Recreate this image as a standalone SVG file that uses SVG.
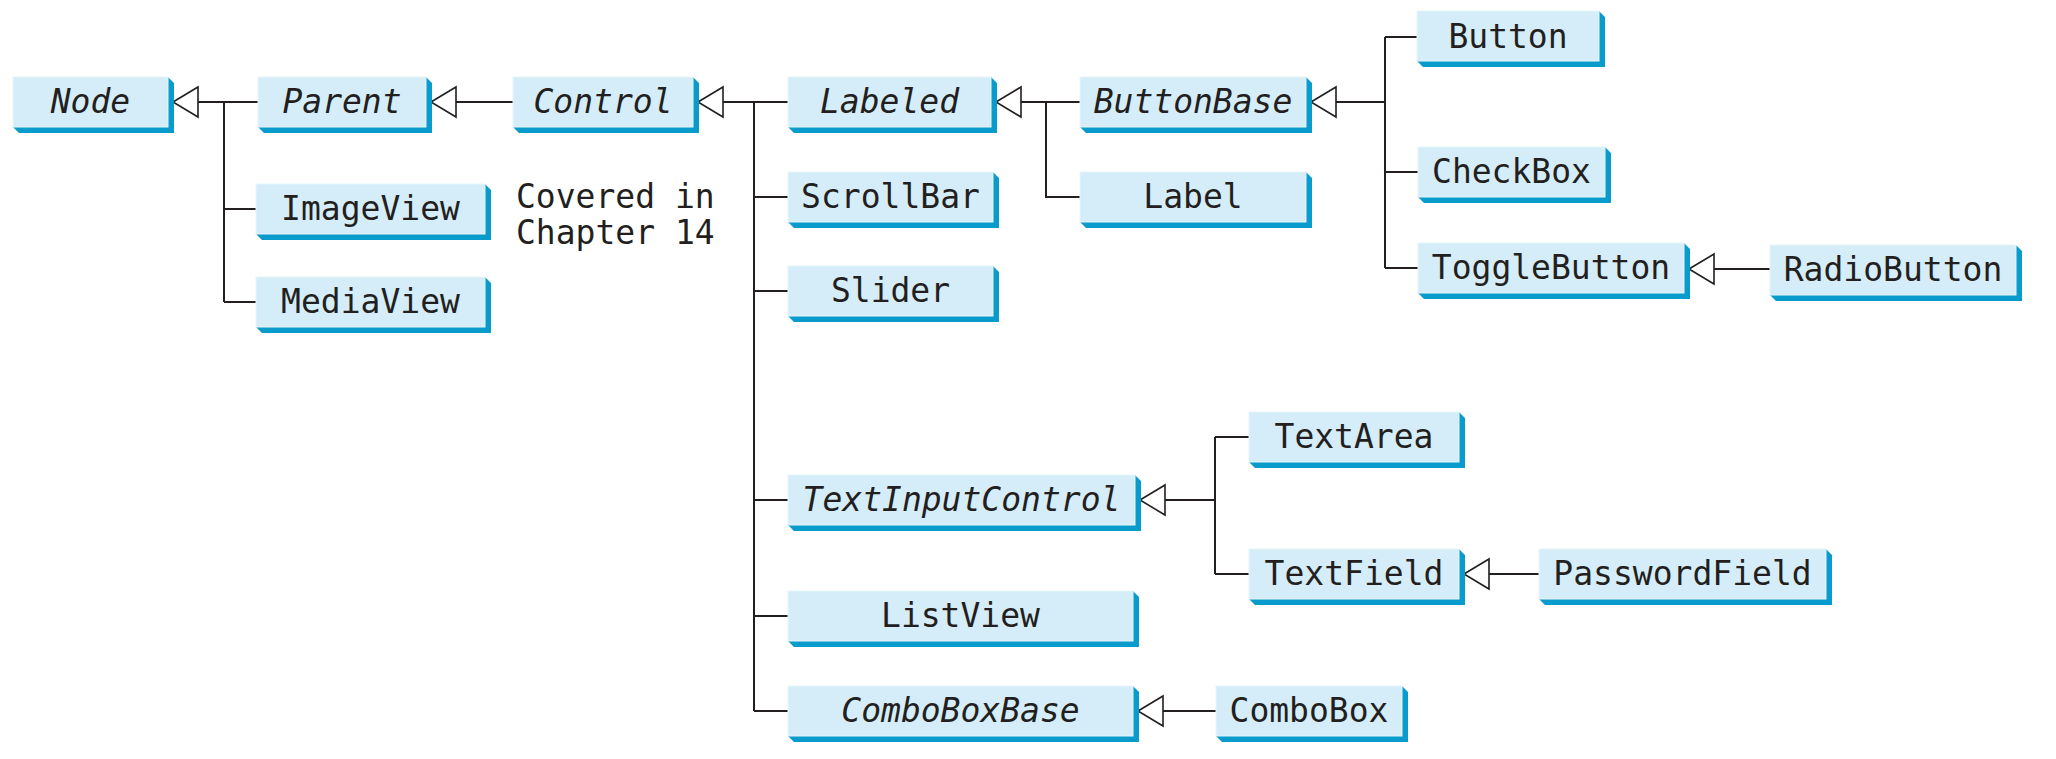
<svg xmlns="http://www.w3.org/2000/svg" width="2056" height="759" viewBox="0 0 2056 759">
<style>
.face{fill:#d4edf9;stroke:#e6f5fc;stroke-width:1}
.shd{fill:#0a9bcd}
.t{font-family:"DejaVu Sans Mono","Liberation Mono",monospace;font-size:33px;fill:#231f20;text-anchor:middle}
.i{font-style:italic}
.c{font-family:"DejaVu Sans Mono","Liberation Mono",monospace;font-size:33px;fill:#231f20}
.ln{fill:none;stroke:#231f20;stroke-width:2}
.ar{fill:#fff;stroke:#231f20;stroke-width:1.6;stroke-linejoin:miter}
</style>
<defs>
<g id="tri"><polygon class="ar" points="0,0 25,-15 25,15"/></g>
</defs>
<rect width="2056" height="759" fill="#fff"/>
<g id="connectors">
<path class="ln" d="M198,102H258 M224,102V302 M224,209H256 M224,302H256"/>
<path class="ln" d="M456,102H513"/>
<path class="ln" d="M723,102H788 M754,102V711 M754,197H788 M754,291H788 M754,500H788 M754,616H788 M754,711H788"/>
<path class="ln" d="M1021,102H1080 M1046,102V197H1080"/>
<path class="ln" d="M1336,102H1385 M1385,37V268 M1385,37H1418 M1385,172H1418 M1385,268H1418"/>
<path class="ln" d="M1714,269H1770"/>
<path class="ln" d="M1165,500H1215 M1215,437V574 M1215,437H1249 M1215,574H1249"/>
<path class="ln" d="M1489,574H1539"/>
<path class="ln" d="M1163,711H1216"/>
<use href="#tri" x="173" y="102"/>
<use href="#tri" x="431" y="102"/>
<use href="#tri" x="698" y="102"/>
<use href="#tri" x="996" y="102"/>
<use href="#tri" x="1311" y="102"/>
<use href="#tri" x="1689" y="269"/>
<use href="#tri" x="1140" y="500"/>
<use href="#tri" x="1464" y="574"/>
<use href="#tri" x="1138" y="711"/>
</g>
<g id="Node"><polygon class="shd" points="168,77 174,83 174,133 19,133 13,127 168,127"/><rect class="face" x="13" y="77" width="155" height="50"/><text class="t i" x="90.5" y="113">Node</text></g>
<g id="Parent"><polygon class="shd" points="426,77 432,83 432,133 264,133 258,127 426,127"/><rect class="face" x="258" y="77" width="168" height="50"/><text class="t i" x="342" y="113">Parent</text></g>
<g id="Control"><polygon class="shd" points="693,77 699,83 699,133 519,133 513,127 693,127"/><rect class="face" x="513" y="77" width="180" height="50"/><text class="t i" x="603" y="113">Control</text></g>
<g id="Labeled"><polygon class="shd" points="991,77 997,83 997,133 794,133 788,127 991,127"/><rect class="face" x="788" y="77" width="203" height="50"/><text class="t i" x="889.5" y="113">Labeled</text></g>
<g id="ButtonBase"><polygon class="shd" points="1306,77 1312,83 1312,133 1086,133 1080,127 1306,127"/><rect class="face" x="1080" y="77" width="226" height="50"/><text class="t i" x="1193" y="113">ButtonBase</text></g>
<g id="Label"><polygon class="shd" points="1306,172 1312,178 1312,228 1086,228 1080,222 1306,222"/><rect class="face" x="1080" y="172" width="226" height="50"/><text class="t" x="1193" y="208">Label</text></g>
<g id="Button"><polygon class="shd" points="1599,11 1605,17 1605,67 1423,67 1417,61 1599,61"/><rect class="face" x="1417" y="11" width="182" height="50"/><text class="t" x="1508" y="48">Button</text></g>
<g id="CheckBox"><polygon class="shd" points="1605,147 1611,153 1611,203 1424,203 1418,197 1605,197"/><rect class="face" x="1418" y="147" width="187" height="50"/><text class="t" x="1511.5" y="183">CheckBox</text></g>
<g id="ToggleButton"><polygon class="shd" points="1684,243 1690,249 1690,299 1424,299 1418,293 1684,293"/><rect class="face" x="1418" y="243" width="266" height="50"/><text class="t" x="1551" y="279">ToggleButton</text></g>
<g id="RadioButton"><polygon class="shd" points="2016,245 2022,251 2022,301 1776,301 1770,295 2016,295"/><rect class="face" x="1770" y="245" width="246" height="50"/><text class="t" x="1893" y="281">RadioButton</text></g>
<g id="ImageView"><polygon class="shd" points="485,184 491,190 491,240 262,240 256,234 485,234"/><rect class="face" x="256" y="184" width="229" height="50"/><text class="t" x="370.5" y="220">ImageView</text></g>
<g id="MediaView"><polygon class="shd" points="485,277 491,283 491,333 262,333 256,327 485,327"/><rect class="face" x="256" y="277" width="229" height="50"/><text class="t" x="370.5" y="313">MediaView</text></g>
<g id="ScrollBar"><polygon class="shd" points="993,172 999,178 999,228 794,228 788,222 993,222"/><rect class="face" x="788" y="172" width="205" height="50"/><text class="t" x="890.5" y="208">ScrollBar</text></g>
<g id="Slider"><polygon class="shd" points="993,266 999,272 999,322 794,322 788,316 993,316"/><rect class="face" x="788" y="266" width="205" height="50"/><text class="t" x="890.5" y="302">Slider</text></g>
<g id="TextInputControl"><polygon class="shd" points="1135,475 1141,481 1141,531 794,531 788,525 1135,525"/><rect class="face" x="788" y="475" width="347" height="50"/><text class="t i" x="961.5" y="511">TextInputControl</text></g>
<g id="ListView"><polygon class="shd" points="1133,591 1139,597 1139,647 794,647 788,641 1133,641"/><rect class="face" x="788" y="591" width="345" height="50"/><text class="t" x="960.5" y="627">ListView</text></g>
<g id="ComboBoxBase"><polygon class="shd" points="1133,686 1139,692 1139,742 794,742 788,736 1133,736"/><rect class="face" x="788" y="686" width="345" height="50"/><text class="t i" x="960.5" y="722">ComboBoxBase</text></g>
<g id="TextArea"><polygon class="shd" points="1459,412 1465,418 1465,468 1255,468 1249,462 1459,462"/><rect class="face" x="1249" y="412" width="210" height="50"/><text class="t" x="1354" y="448">TextArea</text></g>
<g id="TextField"><polygon class="shd" points="1459,549 1465,555 1465,605 1255,605 1249,599 1459,599"/><rect class="face" x="1249" y="549" width="210" height="50"/><text class="t" x="1354" y="585">TextField</text></g>
<g id="PasswordField"><polygon class="shd" points="1826,549 1832,555 1832,605 1545,605 1539,599 1826,599"/><rect class="face" x="1539" y="549" width="287" height="50"/><text class="t" x="1682.5" y="585">PasswordField</text></g>
<g id="ComboBox"><polygon class="shd" points="1402,686 1408,692 1408,742 1222,742 1216,736 1402,736"/><rect class="face" x="1216" y="686" width="186" height="50"/><text class="t" x="1309" y="722">ComboBox</text></g>
<g id="note"><text class="c" x="516" y="208">Covered in</text><text class="c" x="516" y="244">Chapter 14</text></g>
</svg>
